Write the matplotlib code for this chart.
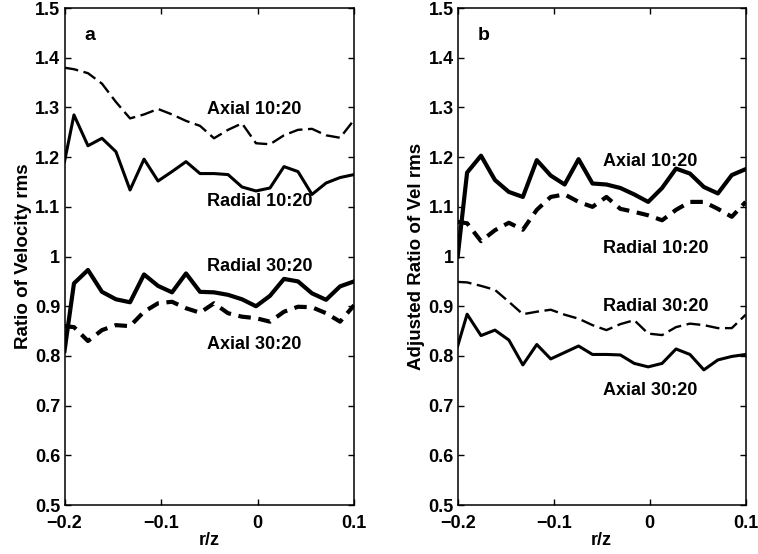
import numpy as np
import matplotlib
matplotlib.use("Agg")
import matplotlib.pyplot as plt

plt.rcParams['font.family'] = ['Liberation Sans', 'DejaVu Sans']
plt.rcParams['font.weight'] = 'bold'
plt.rcParams['lines.scale_dashes'] = False

# radial position over height
r_z = [-0.2, -0.1902, -0.1757, -0.1612, -0.1467, -0.1321, -0.1176, -0.1031,
       -0.0886, -0.0741, -0.0596, -0.0451, -0.0306, -0.0161, -0.0016, 0.0129,
       0.0274, 0.0419, 0.0564, 0.0710, 0.0855, 0.1000]

# (a) ratio of velocity rms
axial_10 = [1.380, 1.377, 1.369, 1.348, 1.311, 1.278, 1.286, 1.297, 1.286, 1.273, 1.263,
            1.238, 1.255, 1.268, 1.228, 1.226, 1.244, 1.255, 1.257, 1.244, 1.239, 1.275]
radial_10 = [1.191, 1.285, 1.223, 1.238, 1.211, 1.134, 1.196, 1.152, 1.171, 1.191, 1.167,
             1.167, 1.165, 1.140, 1.132, 1.138, 1.181, 1.171, 1.125, 1.148, 1.159, 1.165]
radial_30 = [0.810, 0.946, 0.973, 0.929, 0.914, 0.908, 0.964, 0.941, 0.928, 0.966, 0.929,
             0.928, 0.923, 0.914, 0.900, 0.921, 0.955, 0.950, 0.926, 0.913, 0.940, 0.950]
axial_30 = [0.860, 0.858, 0.830, 0.852, 0.862, 0.860, 0.889, 0.906, 0.909, 0.896, 0.887,
            0.906, 0.886, 0.879, 0.876, 0.869, 0.889, 0.899, 0.898, 0.886, 0.869, 0.902]

# (b) adjusted ratio of vel rms
adj_axial_10 = [1.000, 1.169, 1.203, 1.154, 1.130, 1.120, 1.194, 1.163, 1.145, 1.196, 1.147,
                1.145, 1.138, 1.125, 1.110, 1.138, 1.177, 1.167, 1.140, 1.127, 1.164, 1.176]
adj_radial_10 = [1.070, 1.067, 1.031, 1.053, 1.068, 1.054, 1.094, 1.120, 1.125, 1.110, 1.100,
                 1.120, 1.096, 1.090, 1.083, 1.073, 1.094, 1.110, 1.110, 1.096, 1.080, 1.110]
adj_radial_30 = [0.949, 0.948, 0.941, 0.933, 0.909, 0.884, 0.889, 0.893, 0.883, 0.875, 0.862,
                 0.852, 0.864, 0.872, 0.845, 0.842, 0.858, 0.865, 0.862, 0.856, 0.856, 0.883]
adj_axial_30 = [0.820, 0.884, 0.841, 0.852, 0.832, 0.782, 0.823, 0.794, 0.807, 0.820, 0.803,
                0.803, 0.802, 0.785, 0.778, 0.785, 0.814, 0.803, 0.772, 0.792, 0.799, 0.803]

xticks = [-0.2, -0.1, 0, 0.1]
xticklabels = ['\u22120.2', '\u22120.1', '0', '0.1']
yticks = [0.5, 0.6, 0.7, 0.8, 0.9, 1.0, 1.1, 1.2, 1.3, 1.4, 1.5]
yticklabels = ['0.5', '0.6', '0.7', '0.8', '0.9', '1', '1.1', '1.2', '1.3', '1.4', '1.5']

FS = 13
thin_dash = (10, 4)
thick_dash = (9, 5.5)

fig = plt.figure(figsize=(7.58, 5.54), dpi=100)
ax1 = fig.add_axes([0.0851, 0.0884, 0.382, 0.897])
ax2 = fig.add_axes([0.6038, 0.0884, 0.380, 0.897])


def style(ax, ylabel, tag):
    ax.set_xlim(-0.2, 0.1)
    ax.set_ylim(0.5, 1.5)
    ax.set_xticks(xticks)
    ax.set_xticklabels(xticklabels)
    ax.set_yticks(yticks)
    ax.set_yticklabels(yticklabels)
    ax.tick_params(direction='in', length=4, width=1, top=True, right=True,
                   labelsize=FS)
    ax.tick_params(axis='y', pad=3)
    ax.tick_params(axis='x', pad=7)
    for s in ax.spines.values():
        s.set_linewidth(1.1)
    ax.set_xlabel('r/z', fontsize=FS, fontweight='bold', labelpad=0)
    ax.set_ylabel(ylabel, fontsize=FS + 0.5, fontweight='bold', labelpad=2)
    ax.text(0.07, 0.945, tag, transform=ax.transAxes, fontsize=FS + 1,
            fontweight='bold', ha='left', va='center')


# panel a
ax1.plot(r_z, axial_10, color='black', lw=1.7, ls=(0, thin_dash), dash_capstyle='butt')
ax1.plot(r_z, radial_10, color='black', lw=2.2)
ax1.plot(r_z, radial_30, color='black', lw=3.0)
ax1.plot(r_z, axial_30, color='black', lw=3.0, ls=(0, thick_dash), dash_capstyle='butt')
style(ax1, 'Ratio of Velocity rms', 'a')
ax1.text(-0.0523, 1.295, 'Axial 10:20', fontsize=FS, fontweight='bold', va='center')
ax1.text(-0.0523, 1.111, 'Radial 10:20', fontsize=FS, fontweight='bold', va='center')
ax1.text(-0.0523, 0.979, 'Radial 30:20', fontsize=FS, fontweight='bold', va='center')
ax1.text(-0.0523, 0.823, 'Axial 30:20', fontsize=FS, fontweight='bold', va='center')

# panel b
ax2.plot(r_z, adj_axial_10, color='black', lw=3.0)
ax2.plot(r_z, adj_radial_10, color='black', lw=3.0, ls=(0, thick_dash), dash_capstyle='butt')
ax2.plot(r_z, adj_radial_30, color='black', lw=1.7, ls=(0, thin_dash), dash_capstyle='butt')
ax2.plot(r_z, adj_axial_30, color='black', lw=2.2)
style(ax2, 'Adjusted Ratio of Vel rms', 'b')
ax2.text(-0.049, 1.191, 'Axial 10:20', fontsize=FS, fontweight='bold', va='center')
ax2.text(-0.049, 1.016, 'Radial 10:20', fontsize=FS, fontweight='bold', va='center')
ax2.text(-0.049, 0.900, 'Radial 30:20', fontsize=FS, fontweight='bold', va='center')
ax2.text(-0.049, 0.731, 'Axial 30:20', fontsize=FS, fontweight='bold', va='center')

fig.savefig('out.png', dpi=100)
